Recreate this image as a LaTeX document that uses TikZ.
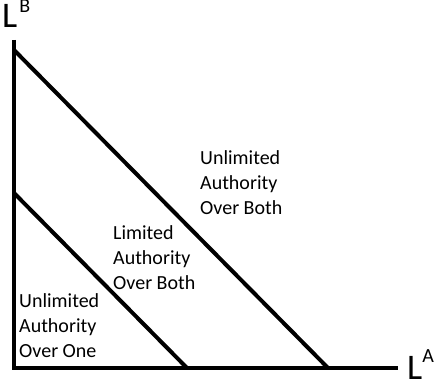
\documentclass[tikz,border=0pt]{standalone}
\usepackage{fontspec}
\setmainfont{Carlito}
\tikzset{
  region/.style={anchor=base west, inner sep=0pt, align=left, font=\fontsize{20}{25}\selectfont},
  axislabel/.style={anchor=base west, inner sep=0pt, font=\fontsize{36}{36}\selectfont}
}
\begin{document}
\begin{tikzpicture}[x=1pt,y=1pt]
\useasboundingbox (-14,-19) rectangle (422,368);
% axes
\coordinate (top) at (0,328);
\coordinate (o) at (0,0);
\coordinate (right) at (384,0);
\draw[line width=4.5pt] (top) -- (o) -- (right);
\node[axislabel] (lb) at (-12,340) {L\kern2pt\raisebox{15pt}{\fontsize{20}{20}\selectfont B}};
\node[axislabel] (la) at (393,-12) {L\raisebox{17pt}{\fontsize{20}{20}\selectfont A}};
% boundaries
\draw[line width=4pt] (0,318) -- (314,0);
\draw[line width=4pt] (0,175) -- (173,0);
% regions
\node[region] (one) at (5,10) {Unlimited\\Authority\\Over One};
\node[region] (limited) at (99,78) {Limited\\Authority\\Over Both};
\node[region] (both) at (186,153) {Unlimited\\Authority\\Over Both};
\end{tikzpicture}
\end{document}
